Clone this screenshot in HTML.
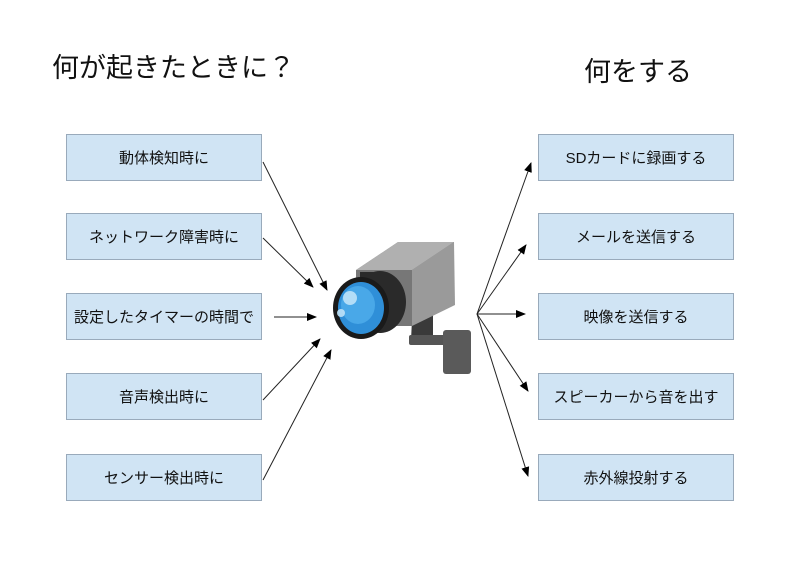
<!DOCTYPE html>
<html><head><meta charset="utf-8"><style>
body{margin:0;width:800px;height:566px;background:#fff;position:relative;overflow:hidden;font-family:"Liberation Sans","Noto Sans CJK JP",sans-serif;color:#111}
.t{position:absolute;font-size:27px;white-space:nowrap}
.b{position:absolute;width:196px;height:47px;background:#d0e4f4;border:1px solid #9ab;box-sizing:border-box;display:flex;align-items:center;justify-content:center;font-size:15px;white-space:nowrap}
</style></head><body>
<div class="t" style="left:52px;top:46px">何が起きたときに？</div>
<div class="t" style="left:584px;top:50px">何をする</div>
<div class="b" style="left:66px;top:134px">動体検知時に</div>
<div class="b" style="left:66px;top:213px">ネットワーク障害時に</div>
<div class="b" style="left:66px;top:293px">設定したタイマーの時間で</div>
<div class="b" style="left:66px;top:373px">音声検出時に</div>
<div class="b" style="left:66px;top:454px">センサー検出時に</div>
<div class="b" style="left:538px;top:134px">SDカードに録画する</div>
<div class="b" style="left:538px;top:213px">メールを送信する</div>
<div class="b" style="left:538px;top:293px">映像を送信する</div>
<div class="b" style="left:538px;top:373px">スピーカーから音を出す</div>
<div class="b" style="left:538px;top:454px">赤外線投射する</div>
<svg width="800" height="566" style="position:absolute;left:0;top:0">
<defs><marker id="a" markerWidth="10" markerHeight="8" refX="9" refY="4" orient="auto" markerUnits="userSpaceOnUse"><path d="M0,0L10,4L0,8z" fill="#000"/></marker></defs>
<g stroke="#222" stroke-width="1" marker-end="url(#a)">
<line x1="263" y1="162" x2="327" y2="290"/>
<line x1="263" y1="238" x2="313" y2="287"/>
<line x1="274" y1="317" x2="316" y2="317"/>
<line x1="263" y1="400" x2="320" y2="339"/>
<line x1="263" y1="480" x2="331" y2="350"/>
<line x1="477" y1="314" x2="531" y2="163"/>
<line x1="477" y1="314" x2="526" y2="245"/>
<line x1="477" y1="314" x2="525" y2="314"/>
<line x1="477" y1="314" x2="528" y2="391"/>
<line x1="477" y1="314" x2="528" y2="476"/>
</g>
<!-- mount -->
<path d="M413,300 h20 v40 h-22 z" fill="#3a3a3a"/>
<rect x="409" y="335" width="40" height="10" rx="2" fill="#555"/>
<rect x="443" y="330" width="28" height="44" rx="3" fill="#5a5a5a"/>
<!-- body -->
<path d="M356,270 L398,242 L454,242 L454,304 L410,326 L356,326 z" fill="#8a8a8a"/>
<path d="M356,270 L398,242 L454,242 L412,270 z" fill="#b0b0b0"/>
<path d="M412,270 L454,242 L455,305 L412,326 z" fill="#9a9a9a"/>
<rect x="356" y="270" width="56" height="56" fill="#777"/>
<!-- lens barrel -->
<ellipse cx="380" cy="302" rx="26" ry="31" fill="#2a2a2a"/>
<rect x="360" y="272" width="22" height="60" fill="#2a2a2a"/>
<ellipse cx="361" cy="308" rx="28" ry="31" fill="#1a1a1a"/>
<ellipse cx="361" cy="308" rx="23" ry="26" fill="#2f8fd8"/>
<ellipse cx="358" cy="305" rx="17" ry="19" fill="#49a8e8"/>
<circle cx="350" cy="298" r="7" fill="#bfe2f8" opacity=".9"/>
<circle cx="341" cy="313" r="4" fill="#bfe2f8" opacity=".9"/>
</svg>
</body></html>
